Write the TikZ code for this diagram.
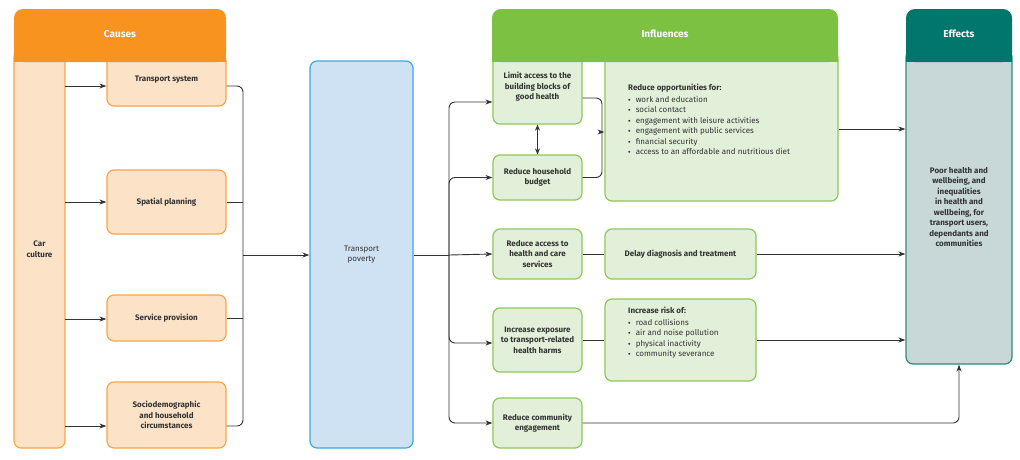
\documentclass[tikz,border=0pt]{standalone}
\usepackage{fontspec}
\setmainfont{Fira Sans}
\usetikzlibrary{arrows.meta,calc}
\definecolor{orH}{HTML}{F7931E}\definecolor{orL}{HTML}{FCE3C8}\definecolor{orB}{HTML}{F9A54A}
\definecolor{blL}{HTML}{CFE2F3}\definecolor{blB}{HTML}{3FA9E0}
\definecolor{grH}{HTML}{7DC142}\definecolor{grL}{HTML}{E2EFD9}\definecolor{grB}{HTML}{8CC95A}
\definecolor{tlH}{HTML}{00766C}\definecolor{tlL}{HTML}{C8D8D8}\definecolor{tlB}{HTML}{2F8A82}
\definecolor{ln}{HTML}{333333}
\tikzset{
 bx/.style={rounded corners=7pt,line width=1.2pt,align=center,inner sep=2pt,font=\fontsize{8}{10.5}\selectfont\bfseries,text=ln},
 ob/.style={bx,fill=orL,draw=orB},
 gb/.style={bx,fill=grL,draw=grB},
 hd/.style={rounded corners=9pt,font=\fontsize{10}{12}\selectfont\bfseries,text=white,inner sep=0pt},
 cn/.style={draw=ln,line width=0.9pt,rounded corners=6pt},
 ar/.style={cn,-{Stealth[length=7pt,width=5pt]}},
 lst/.style={anchor=north west,align=left,text=ln,font=\fontsize{8}{10.5}\selectfont,inner sep=0pt}
}
\newcommand{\bul}{\textcolor{ln}{\raisebox{1pt}{\scalebox{0.6}{$\bullet$}}}\hspace{5pt}}
\begin{document}
\begin{tikzpicture}[x=1pt,y=-1pt]
\useasboundingbox[fill=white] (0,0) rectangle (1020,459);
% columns
\node[ob,minimum width=51pt,minimum height=398pt] (car) at (39.5,249) {Car\\culture};
\node[bx,fill=blL,draw=blB,minimum width=103pt,minimum height=387pt,font=\fontsize{8}{10.5}\selectfont] (tp) at (361.5,254.5) {Transport\\poverty};
\node[bx,fill=tlL,draw=tlB,minimum width=106pt,minimum height=314pt] (eff) at (959,207) {Poor health and\\wellbeing, and\\inequalities\\in health and\\wellbeing, for\\transport users,\\dependants and\\communities};
% cause boxes
\node[ob,minimum width=119pt,minimum height=52pt] (ts) at (166.5,80) {\raisebox{0pt}{Transport system}};
\node[ob,minimum width=119pt,minimum height=64pt] (sp) at (166.5,202) {Spatial planning};
\node[ob,minimum width=119pt,minimum height=46pt] (sv) at (166.5,318) {Service provision};
\node[ob,minimum width=119pt,minimum height=66pt] (so) at (166.5,415) {Sociodemographic\\and household\\circumstances};
% influence boxes
\node[gb,minimum width=89pt,minimum height=74pt] (lim) at (537.5,87) {Limit access to the\\building blocks of\\good health};
\node[gb,minimum width=89pt,minimum height=45pt] (rhb) at (537.5,177.5) {Reduce household\\budget};
\node[gb,minimum width=233pt,minimum height=150pt] (opp) at (721.5,126) {};
\node[lst] at (628,84) {\bfseries Reduce opportunities for:\\[1pt]
\bul work and education\\ \bul social contact\\ \bul engagement with leisure activities\\
\bul engagement with public services\\ \bul financial security\\ \bul access to an affordable and nutritious diet};
\node[gb,minimum width=89pt,minimum height=50pt] (rah) at (537.5,254) {Reduce access to\\health and care\\services};
\node[gb,minimum width=151pt,minimum height=50pt] (del) at (680.5,254) {Delay diagnosis and treatment};
\node[gb,minimum width=89pt,minimum height=64pt] (iex) at (537.5,340) {Increase exposure\\to transport-related\\health harms};
\node[gb,minimum width=151pt,minimum height=82pt] (irk) at (680.5,340) {};
\node[lst] at (628,307) {\bfseries Increase risk of:\\[1pt]
\bul road collisions\\ \bul air and noise pollution\\ \bul physical inactivity\\ \bul community severance};
\node[gb,minimum width=89pt,minimum height=50pt] (rce) at (537.5,423) {Reduce community\\engagement};
% headers
\fill[orH,rounded corners=9pt] (14,9) rectangle (226,62);
\fill[orH] (14,40) rectangle (226,62);
\node[hd] (hc) at (120,34) {Causes};
\fill[grH,rounded corners=9pt] (492,9) rectangle (838,62);
\fill[grH] (492,40) rectangle (838,62);
\node[hd] (hi) at (665,34) {Influences};
\fill[tlH,rounded corners=9pt] (906,9) rectangle (1012,62);
\fill[tlH] (906,40) rectangle (1012,62);
\node[hd] (he) at (959,34) {Effects};
% connectors causes
\foreach \b/\y in {ts/86,sp/202,sv/319,so/426}{\draw[ar] (65,\y) -- (\b.west |- 0,\y);}
\coordinate (b1) at (243,255);
\draw[cn] (ts.east |- 0,86) -| (b1) |- (so.east |- 0,426);
\draw[cn] (sp.east) -- (sp.east -| b1);
\draw[cn] (sv.east) -- (sv.east -| b1);
\draw[ar] (b1) -- (b1 -| tp.west);
\coordinate (b2) at (449,255);
\draw[cn] (tp.east |- b2) -- (b2);
\draw[ar] (b2) |- (lim.west |- 0,102);
\draw[ar] (b2) |- (rhb.west);
\draw[ar] (b2) -- (rah.west);
\draw[ar] (b2) |- (iex.west |- 0,343);
\draw[ar] (b2) |- (rce.west);
\coordinate (b3) at (602,132);
\draw[cn] (lim.east |- 0,98) -| (b3) |- (rhb.east);
\draw[ar] (b3) -- (opp.west |- b3);
\draw[cn,{Stealth[length=6pt,width=5pt]}-{Stealth[length=6pt,width=5pt]}] (lim.south) -- (rhb.north);
\draw[ar] (opp.east |- 0,129) -- (eff.west |- 0,129);
\draw[cn] (rah.east) -- (del.west);
\draw[ar] (del.east) -- (del.east -| eff.west);
\draw[cn] (iex.east) -- (irk.west);
\draw[ar] (irk.east) -- (irk.east -| eff.west);
\draw[ar] (rce.east) -| (eff.south);
\end{tikzpicture}
\end{document}
